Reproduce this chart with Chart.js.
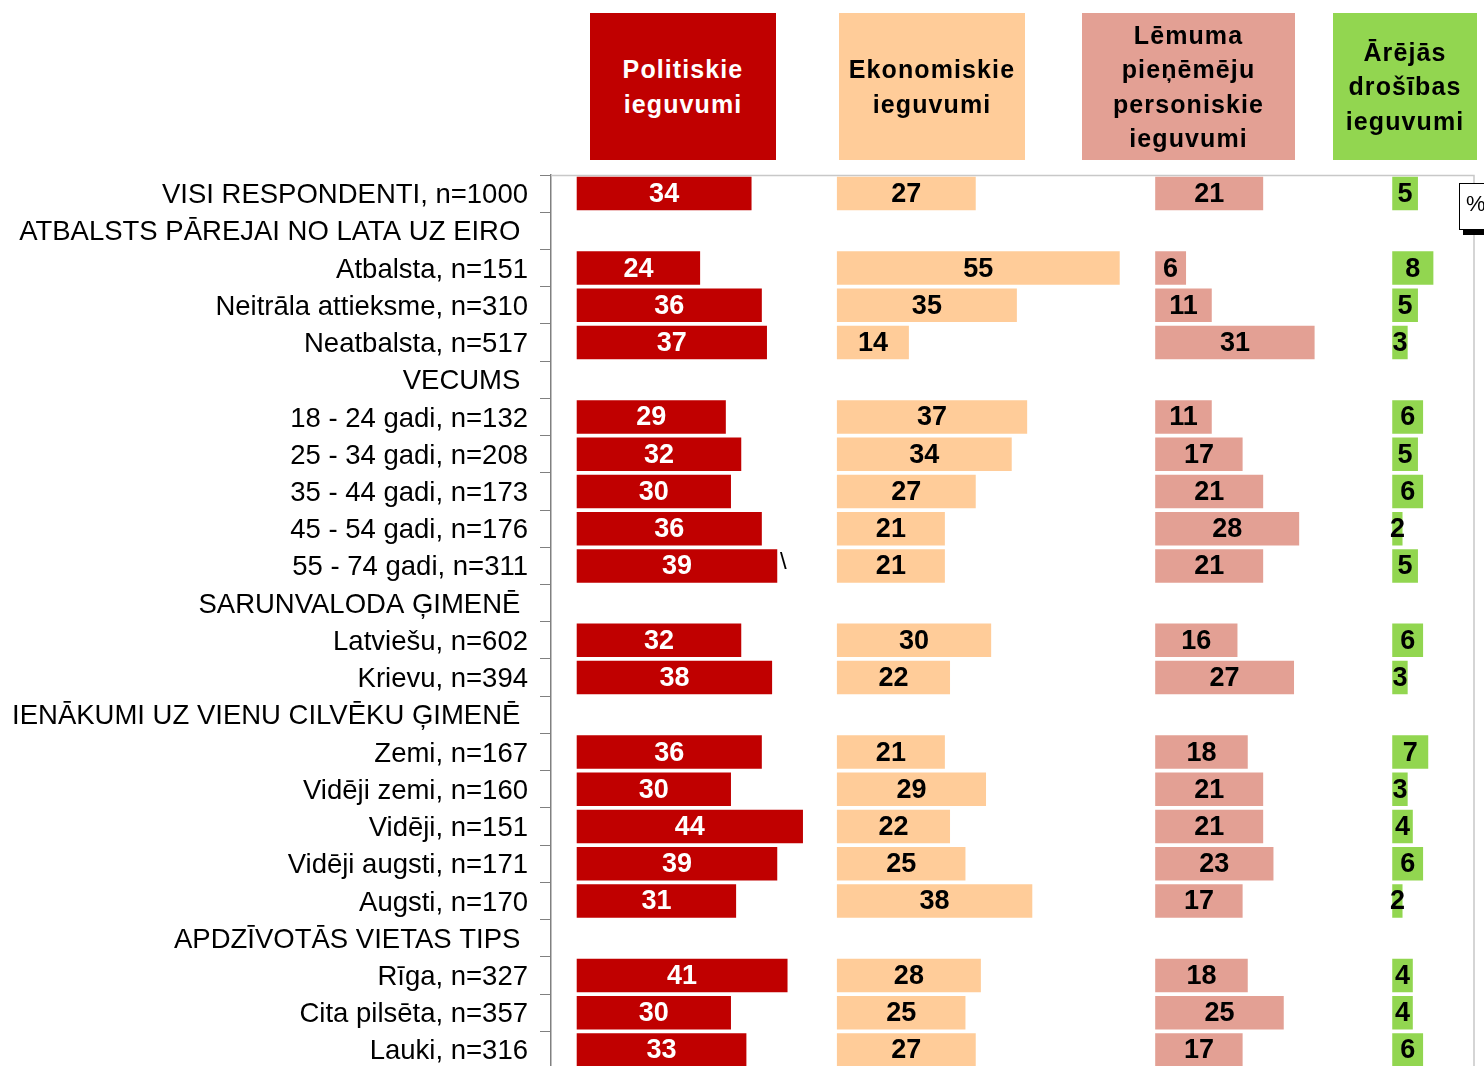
<!DOCTYPE html>
<html>
<head>
<meta charset="utf-8">
<script src="https://cdn.jsdelivr.net/npm/chart.js@4/dist/chart.umd.min.js"></script>
<style>
  html, body { margin: 0; padding: 0; overflow: hidden; background: #ffffff; width: 1484px; height: 1066px; }
  #wrap { position: absolute; left: 0; top: 0; width: 1484px; height: 1097px; }
  .hdr { position: absolute; top: 13px; height: 147px; display: flex; align-items: center; justify-content: center; text-align: center;
         font-family: "Liberation Sans", Arial, sans-serif; font-weight: bold; font-size: 25px; line-height: 34.3px; letter-spacing: 1.1px; }
  #pct { position: absolute; left: 1459px; top: 183px; width: 40px; height: 47px; border: 1px solid #000; background: #fff;
         box-shadow: 4px 5px 0 #000; font-family: "Liberation Sans", Arial, sans-serif; font-size: 22px; line-height: 40px; padding-left: 6px; box-sizing: border-box; }
  #mark { position: absolute; left: 780px; top: 547px; font-family: "Liberation Sans", Arial, sans-serif; font-size: 24px; color: #000; }
</style>
</head>
<body>
<div id="wrap"><canvas id="c" width="1484" height="1097"></canvas></div>
<div class="hdr" style="left:590px;width:186px;background:#C00000;color:#fff;">Politiskie<br>ieguvumi</div>
<div class="hdr" style="left:839px;width:186px;background:#FFCC99;color:#000;">Ekonomiskie<br>ieguvumi</div>
<div class="hdr" style="left:1082px;width:213px;background:#E3A094;color:#000;">Lēmuma<br>pieņēmēju<br>personiskie<br>ieguvumi</div>
<div class="hdr" style="left:1333px;width:144px;background:#92D650;color:#000;">Ārējās<br>drošības<br>ieguvumi</div>
<div id="pct">%</div>
<div id="mark">\</div>
<script>
const categories = [
  "VISI RESPONDENTI, n=1000",
  "ATBALSTS PĀREJAI NO LATA UZ EIRO ",
  "Atbalsta, n=151",
  "Neitrāla attieksme, n=310",
  "Neatbalsta, n=517",
  "VECUMS ",
  "18 - 24 gadi, n=132",
  "25 - 34 gadi, n=208",
  "35 - 44 gadi, n=173",
  "45 - 54 gadi, n=176",
  "55 - 74 gadi, n=311",
  "SARUNVALODA ĢIMENĒ ",
  "Latviešu, n=602",
  "Krievu, n=394",
  "IENĀKUMI UZ VIENU CILVĒKU ĢIMENĒ ",
  "Zemi, n=167",
  "Vidēji zemi, n=160",
  "Vidēji, n=151",
  "Vidēji augsti, n=171",
  "Augsti, n=170",
  "APDZĪVOTĀS VIETAS TIPS ",
  "Rīga, n=327",
  "Cita pilsēta, n=357",
  "Lauki, n=316"
];
const seriesNames = ["Politiskie ieguvumi", "Ekonomiskie ieguvumi", "Lēmuma pieņēmēju personiskie ieguvumi", "Ārējās drošības ieguvumi"];
const politiskie   = [34, null, 24, 36, 37, null, 29, 32, 30, 36, 39, null, 32, 38, null, 36, 30, 44, 39, 31, null, 41, 30, 33];
const ekonomiskie  = [27, null, 55, 35, 14, null, 37, 34, 27, 21, 21, null, 30, 22, null, 21, 29, 22, 25, 38, null, 28, 25, 27];
const personiskie  = [21, null, 6, 11, 31, null, 11, 17, 21, 28, 21, null, 16, 27, null, 18, 21, 21, 23, 17, null, 18, 25, 17];
const drosibas     = [5, null, 8, 5, 3, null, 6, 5, 6, 2, 5, null, 6, 3, null, 7, 3, 4, 6, 2, null, 4, 4, 6];

// panel start offsets (in % units) for each series column
const panelOffsets = [0, 50.6, 112.5, 158.6];
const colors = ["#C00000", "#FFCC99", "#E3A094", "#92D650"];
const labelColors = ["#FFFFFF", "#000000", "#000000", "#000000"];
const allSeries = [politiskie, ekonomiskie, personiskie, drosibas];

const datasets = allSeries.map((vals, k) => ({
  label: seriesNames[k],
  data: vals.map(v => v == null ? null : [panelOffsets[k], panelOffsets[k] + v]),
  values: vals,
  backgroundColor: colors[k],
  borderWidth: 0,
  grouped: false,
  barPercentage: 0.9,
  categoryPercentage: 1.0
}));

const FONT = '"Liberation Sans", Arial, sans-serif';

const valueLabels = {
  id: 'valueLabels',
  afterDatasetsDraw(chart) {
    const ctx = chart.ctx;
    ctx.save();
    ctx.font = 'bold 27px ' + FONT;
    ctx.textAlign = 'center';
    ctx.textBaseline = 'middle';
    chart.data.datasets.forEach((ds, k) => {
      const meta = chart.getDatasetMeta(k);
      meta.data.forEach((el, i) => {
        const v = ds.values[i];
        if (v == null) return;
        ctx.fillStyle = labelColors[k];
        ctx.fillText(String(v), (el.x + el.base) / 2, el.y + 1);
      });
    });
    ctx.restore();
  }
};

const frame = {
  id: 'frame',
  beforeDatasetsDraw(chart) {
    const a = chart.chartArea;
    const ctx = chart.ctx;
    ctx.save();
    ctx.strokeStyle = '#C8C8C8';
    ctx.lineWidth = 1.5;
    ctx.beginPath();
    ctx.moveTo(a.left, a.top + 0.5);
    ctx.lineTo(a.right, a.top + 0.5);
    ctx.lineTo(a.right, a.bottom + 5);
    ctx.stroke();
    ctx.restore();
  }
};

new Chart(document.getElementById('c'), {
  type: 'bar',
  data: { labels: categories, datasets },
  options: {
    indexAxis: 'y',
    responsive: false,
    animation: false,
    layout: { padding: { top: 175, right: 10, bottom: 0, left: 0 } },
    plugins: { legend: { display: false }, tooltip: { enabled: false } },
    scales: {
      x: { type: 'linear', min: -5, max: 174.5, display: false },
      y: {
        type: 'category',
        offset: true,
        grid: { display: true, drawOnChartArea: false, drawTicks: true, tickLength: 11, color: '#808080', lineWidth: 1, offset: true },
        border: { display: true, color: '#808080', width: 1.5 },
        ticks: { autoSkip: false, padding: 12, labelOffset: 2, color: '#000000', font: { family: FONT, size: 27.5 } },
        afterFit(scale) { scale.width = 551; }
      }
    }
  },
  plugins: [frame, valueLabels]
});
</script>
</body>
</html>
